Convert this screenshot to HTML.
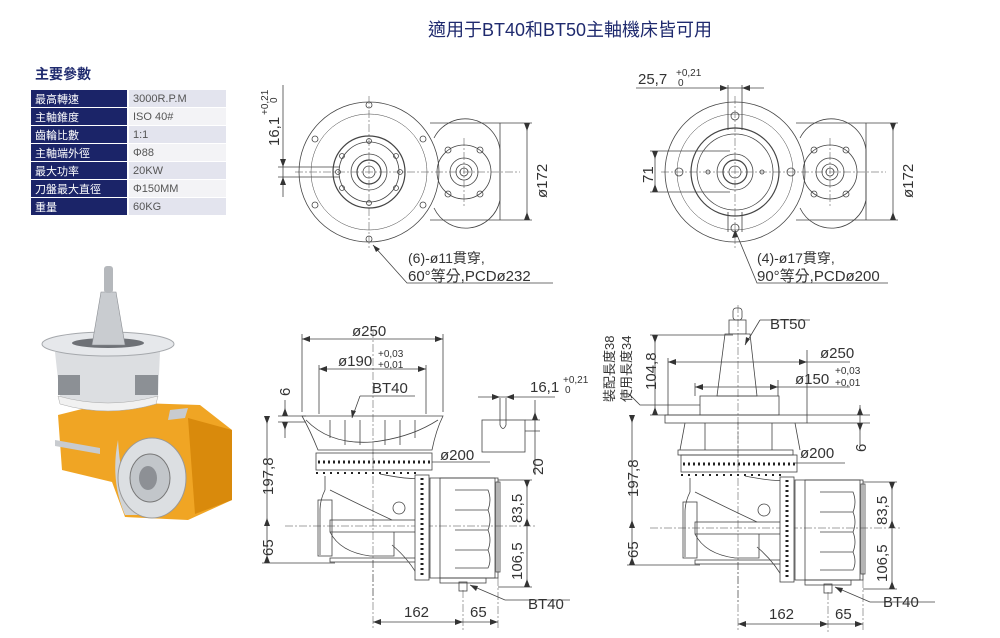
<!DOCTYPE html>
<html><head><meta charset="utf-8"><style>
html,body{margin:0;padding:0;background:#fff;}
body{width:1000px;height:638px;overflow:hidden;position:relative;font-family:"Liberation Sans","Noto Sans CJK TC",sans-serif;}
.title{position:absolute;left:0;width:1140px;top:16px;text-align:center;font-size:18px;color:#1f2a6e;}
.h{position:absolute;left:35px;top:64px;font-size:14px;font-weight:bold;color:#1f2a6e;}
table{position:absolute;left:31px;top:90px;border-collapse:collapse;font-size:11px;}
td{height:17px;padding:0 0 0 4px;border-bottom:1px solid #fff;}
td.k{background:#1b2468;color:#fff;width:92px;border-right:2px solid #fff;}
td.v{color:#555;width:93px;}
tr:nth-child(odd) td.v{background:#e3e4ee;}
tr:nth-child(even) td.v{background:#f3f3f6;}
#d{position:absolute;left:0;top:0;z-index:5;}
#d text{font-family:"Liberation Sans","Noto Sans CJK TC",sans-serif;fill:#333;}
</style></head><body>
<div class="title">適用于BT40和BT50主軸機床皆可用</div>
<div class="h">主要參數</div>
<table>
<tr><td class="k">最高轉速</td><td class="v">3000R.P.M</td></tr>
<tr><td class="k">主軸錐度</td><td class="v">ISO 40#</td></tr>
<tr><td class="k">齒輪比數</td><td class="v">1:1</td></tr>
<tr><td class="k">主軸端外徑</td><td class="v">Φ88</td></tr>
<tr><td class="k">最大功率</td><td class="v">20KW</td></tr>
<tr><td class="k">刀盤最大直徑</td><td class="v">Φ150MM</td></tr>
<tr><td class="k">重量</td><td class="v">60KG</td></tr>
</table>
<svg id="d" xmlns="http://www.w3.org/2000/svg" width="1000" height="638" viewBox="0 0 1000 638">
<!-- top-left view -->
<g fill="none" stroke="#444" stroke-width="0.8">
 <path d="M430,123 H500 M430,220 H500 M500,123 V220"/>
 <circle cx="369" cy="172" r="70"/>
 <circle cx="369" cy="172" r="58" stroke-width="0.5"/>
 <circle cx="369" cy="172" r="36" stroke-width="1.2"/>
 <circle cx="369" cy="172" r="30"/>
 <circle cx="369" cy="172" r="18"/>
 <circle cx="369" cy="172" r="12" stroke-width="1.2"/>
 <circle cx="369" cy="172" r="6"/>
 <path d="M434,138 A35,35 0 0 1 500,150 V200 A35,35 0 0 1 434,208"/>
 <circle cx="464" cy="172" r="27"/>
 <circle cx="464" cy="172" r="14"/>
 <circle cx="464" cy="172" r="8"/>
 <circle cx="464" cy="172" r="4"/>
 <circle cx="448" cy="150" r="3"/><circle cx="480" cy="150" r="3"/><circle cx="448" cy="194" r="3"/><circle cx="480" cy="194" r="3"/>
 <path d="M295,172 H520 M369,96 V250 M464,138 V206" stroke-dasharray="8,2,2,2" stroke-width="0.5"/>
 <path d="M527,123 V220 M500,123 H532 M500,220 H532"/>
 <circle cx="369" cy="105" r="3"/><circle cx="369" cy="239" r="3"/><circle cx="315" cy="139" r="3"/><circle cx="423" cy="139" r="3"/><circle cx="315" cy="205" r="3"/><circle cx="423" cy="205" r="3"/>
 <circle cx="369" cy="141" r="2.5"/><circle cx="369" cy="203" r="2.5"/><circle cx="342" cy="156" r="2.5"/><circle cx="396" cy="156" r="2.5"/><circle cx="342" cy="188" r="2.5"/><circle cx="396" cy="188" r="2.5"/><circle cx="338" cy="172" r="2.5"/><circle cx="400" cy="172" r="2.5"/>
 <path d="M283,85 V197 M278,167 H340 M278,177 H340"/>
 <path d="M373,245 L407,283 H553"/>
</g>
<g fill="#333">
 <path d="M524,123 L530,123 L527,131z M524,220 L530,220 L527,212z M280,159 L286,159 L283,167z M280,185 L286,185 L283,177z M373,245 L380,249 L376,252z"/>
</g>
<!-- top-right view -->
<g transform="translate(366,0)" fill="none" stroke="#444" stroke-width="0.8">
 <path d="M430,123 H500 M430,220 H500 M500,123 V220"/>
 <circle cx="369" cy="172" r="70"/>
 <circle cx="369" cy="172" r="58" stroke-width="0.5"/>
 <circle cx="369" cy="172" r="44" stroke-width="1.2"/>
 <circle cx="369" cy="172" r="38"/>
 <circle cx="369" cy="172" r="18"/>
 <circle cx="369" cy="172" r="12" stroke-width="1.2"/>
 <circle cx="369" cy="172" r="6"/>
 <path d="M434,138 A35,35 0 0 1 500,150 V200 A35,35 0 0 1 434,208"/>
 <circle cx="464" cy="172" r="27"/>
 <circle cx="464" cy="172" r="14"/>
 <circle cx="464" cy="172" r="8"/>
 <circle cx="464" cy="172" r="4"/>
 <circle cx="448" cy="150" r="3"/><circle cx="480" cy="150" r="3"/><circle cx="448" cy="194" r="3"/><circle cx="480" cy="194" r="3"/>
 <path d="M295,172 H520 M369,96 V250 M464,138 V206" stroke-dasharray="8,2,2,2" stroke-width="0.5"/>
 <path d="M527,123 V220 M500,123 H532 M500,220 H532"/>
 <circle cx="369" cy="116" r="4"/><circle cx="369" cy="228" r="4"/><circle cx="313" cy="172" r="4"/><circle cx="425" cy="172" r="4"/>
 <circle cx="342" cy="172" r="2"/><circle cx="396" cy="172" r="2"/>
 <path d="M362,85 V130 M376,85 V130 M362,212 V232 M376,212 V232"/>
 <path d="M270,88 H398"/>
 <path d="M284,151 H364 M284,192 H364 M289,151 V192"/>
 <path d="M369,230 L391,283 H522"/>
</g>
<g fill="#333">
 <path d="M890,123 L896,123 L893,131z M890,220 L896,220 L893,212z M728,88 L720,85 L720,91z M742,88 L750,85 L750,91z M652,151 L658,151 L655,159z M652,192 L658,192 L655,184z M735,230 L732,238 L738,237z"/>
</g>
<g font-size="15">
 <text transform="translate(279,146) rotate(-90)">16,1</text>
 <text font-size="10" transform="translate(268,115) rotate(-90)">+0,21</text>
 <text font-size="10" transform="translate(277,103) rotate(-90)">0</text>
 <text transform="translate(547,198) rotate(-90)">ø172</text>
 <text transform="translate(913,198) rotate(-90)">ø172</text>
 <text transform="translate(653,183) rotate(-90)">71</text>
 <text x="638" y="84">25,7</text><text x="676" y="76" font-size="10">+0,21</text><text x="678" y="86" font-size="10">0</text>
 <text x="408" y="263" font-size="14">(6)-ø11貫穿,</text>
 <text x="408" y="281">60°等分,PCDø232</text>
 <text x="757" y="263" font-size="14">(4)-ø17貫穿,</text>
 <text x="757" y="281">90°等分,PCDø200</text>
</g>
<!-- lower drawings -->
<g>
 <rect x="316" y="453" width="116" height="17" fill="#fff" stroke="#444" stroke-width="0.8"/>
 <path d="M318,462 H430" stroke="#222" stroke-width="3" stroke-dasharray="2,3"/>
 <path d="M316,473 H420" stroke="#222" stroke-width="2" stroke-dasharray="2,5"/>
 <g fill="none" stroke="#444" stroke-width="0.8">
 <path d="M325,476 V490 Q320,500 320,510 V555 M330,490 Q360,505 392,520 M380,474 Q410,480 420,478 V580 Q410,560 392,545"/>
 <rect x="318" y="500" width="14" height="56"/>
 <rect x="330" y="520" width="88" height="12"/>
 <path d="M330,532 Q340,552 370,556 H394 V532"/>
 <rect x="330" y="558" width="88" height="4"/>
 <rect x="430" y="478" width="68" height="100"/>
 <rect x="440" y="478" width="55" height="100"/>
 <path d="M455,490 H488 Q492,500 488,510 H455 M455,510 H488 Q492,520 488,530 H455 M455,530 H488 Q492,540 488,550 H455 M455,550 H488 Q492,560 488,568 H455"/>
 <rect x="496" y="482" width="4" height="90"/>
 <rect x="440" y="578" width="46" height="5"/>
 <rect x="459" y="582" width="8" height="9"/>
 <circle cx="399" cy="508" r="6"/>
 <path d="M373,420 V600 M285,526 H535 M463,590 V630 M498,578 V630 M373,560 V630" stroke-dasharray="8,2,2,2" stroke-width="0.5"/>
 <path d="M267,416 V563 M262,563 H335 M498,480 H532 M498,587 H532 M527,480 V587 M373,622 H498 M505,600 L470,585 M505,600 H570"/>
 </g>
 <path d="M264,416 L270,416 L267,424z M264,563 L270,563 L267,555z M264,526 L270,526 L267,518z M524,480 L530,480 L527,488z M524,587 L530,587 L527,579z M524,526 L530,526 L527,518z M373,622 L381,619 L381,625z M463,622 L455,619 L455,625z M498,622 L490,619 L490,625z M470,585 L478,586 L476,591z" fill="#333"/>
 <rect x="415" y="475" width="14" height="105" fill="#fff" stroke="#444" stroke-width="0.8"/>
 <path d="M422,478 V578" stroke="#222" stroke-width="3" stroke-dasharray="2,3"/>
 <g font-size="15">
 <text transform="translate(273,495) rotate(-90)">197,8</text>
 <text transform="translate(273,556) rotate(-90)">65</text>
 <text transform="translate(522,523) rotate(-90)">83,5</text>
 <text transform="translate(522,580) rotate(-90)">106,5</text>
 <text x="404" y="617">162</text><text x="470" y="617">65</text>
 <text x="528" y="609">BT40</text>
 </g>
</g>
<g transform="translate(365,2)">
 <rect x="316" y="453" width="116" height="17" fill="#fff" stroke="#444" stroke-width="0.8"/>
 <path d="M318,462 H430" stroke="#222" stroke-width="3" stroke-dasharray="2,3"/>
 <path d="M316,473 H420" stroke="#222" stroke-width="2" stroke-dasharray="2,5"/>
 <g fill="none" stroke="#444" stroke-width="0.8">
 <path d="M325,476 V490 Q320,500 320,510 V555 M330,490 Q360,505 392,520 M380,474 Q410,480 420,478 V580 Q410,560 392,545"/>
 <rect x="318" y="500" width="14" height="56"/>
 <rect x="330" y="520" width="88" height="12"/>
 <path d="M330,532 Q340,552 370,556 H394 V532"/>
 <rect x="330" y="558" width="88" height="4"/>
 <rect x="430" y="478" width="68" height="100"/>
 <rect x="440" y="478" width="55" height="100"/>
 <path d="M455,490 H488 Q492,500 488,510 H455 M455,510 H488 Q492,520 488,530 H455 M455,530 H488 Q492,540 488,550 H455 M455,550 H488 Q492,560 488,568 H455"/>
 <rect x="496" y="482" width="4" height="90"/>
 <rect x="440" y="578" width="46" height="5"/>
 <rect x="459" y="582" width="8" height="9"/>
 <circle cx="399" cy="508" r="6"/>
 <path d="M373,420 V600 M285,526 H535 M463,590 V630 M498,578 V630 M373,560 V630" stroke-dasharray="8,2,2,2" stroke-width="0.5"/>
 <path d="M267,413 V563 M262,563 H335 M498,480 H532 M498,587 H532 M527,480 V587 M373,622 H498 M505,600 L470,585 M505,600 H570"/>
 </g>
 <path d="M264,413 L270,413 L267,421z M264,563 L270,563 L267,555z M264,526 L270,526 L267,518z M524,480 L530,480 L527,488z M524,587 L530,587 L527,579z M524,526 L530,526 L527,518z M373,622 L381,619 L381,625z M463,622 L455,619 L455,625z M498,622 L490,619 L490,625z M470,585 L478,586 L476,591z" fill="#333"/>
 <rect x="415" y="475" width="14" height="105" fill="#fff" stroke="#444" stroke-width="0.8"/>
 <path d="M422,478 V578" stroke="#222" stroke-width="3" stroke-dasharray="2,3"/>
 <g font-size="15">
 <text transform="translate(273,495) rotate(-90)">197,8</text>
 <text transform="translate(273,556) rotate(-90)">65</text>
 <text transform="translate(522,523) rotate(-90)">83,5</text>
 <text transform="translate(522,580) rotate(-90)">106,5</text>
 <text x="404" y="617">162</text><text x="470" y="617">65</text>
 <text x="518" y="605">BT40</text>
 </g>
</g>
<!-- bottom-left upper -->
<g fill="none" stroke="#444" stroke-width="0.8">
 <path d="M302,416 H443 Q436,430 432,450 H318 Q310,430 302,416z" fill="#fff"/>
 <path d="M306,420 Q330,445 372,442 Q410,438 438,420"/>
 <path d="M330,420 V438 M345,420 V445 M360,420 V445 M385,420 V445 M400,420 V445 M415,420 V438"/>
 <path d="M302,339 H443 M302,334 V412 M443,334 V412"/>
 <path d="M319,365 V414 M426,365 V414 M319,369 H426"/>
 <path d="M360,396 H415 M360,396 L352,418"/>
 <path d="M278,416 H306 M278,422 H306 M285,400 V416 M285,438 V422"/>
 <path d="M432,462 H490"/>
 <rect x="482" y="420" width="43" height="32"/>
 <path d="M500,398 V425 Q503,432 506,425 V398"/>
 <path d="M478,397 H555"/>
 <path d="M535,400 V475 M525,420 H540 M525,431 H540"/>
 <path d="M373,330 V470" stroke-dasharray="8,2,2,2" stroke-width="0.5"/>
</g>
<path fill="#333" d="M302,339 L310,336 L310,342z M443,339 L435,336 L435,342z M319,369 L327,366 L327,372z M426,369 L418,366 L418,372z M352,418 L351,410 L356,411z M282,416 L288,416 L285,408z M282,422 L288,422 L285,430z M500,397 L492,394 L492,400z M506,397 L514,394 L514,400z M532,420 L538,420 L535,412z"/>
<g font-size="15">
 <text x="352" y="336">ø250</text>
 <text x="338" y="366">ø190</text><text x="378" y="357" font-size="10">+0,03</text><text x="378" y="368" font-size="10">+0,01</text>
 <text x="372" y="393">BT40</text>
 <text transform="translate(290,396) rotate(-90)">6</text>
 <text x="440" y="460">ø200</text>
 <text x="530" y="392">16,1</text><text x="563" y="383" font-size="10">+0,21</text><text x="565" y="393" font-size="10">0</text>
 <text transform="translate(543,475) rotate(-90)">20</text>
</g>
<!-- bottom-right upper -->
<g fill="none" stroke="#444" stroke-width="0.8">
 <rect x="733" y="308" width="9" height="12" rx="3"/>
 <rect x="729" y="320" width="17" height="14"/>
 <path d="M725,334 H750 L757,396 H717z" fill="#fff"/>
 <rect x="700" y="396" width="79" height="19"/>
 <rect x="665" y="415" width="142" height="8"/>
 <path d="M685,423 L680,450 M795,423 L800,450 M705,423 V450 M772,423 V450"/>
 <rect x="678" y="450" width="115" height="5"/>
 <path d="M668,362 H850 M668,358 V415 M807,350 V415"/>
 <path d="M695,387 H850 M695,383 V396 M778,380 V396"/>
 <path d="M655,335 V415"/>
 <path d="M650,335 H733 M650,415 H700 M630,395 L640,405 H700"/>
 <path d="M760,320 H810 M760,320 L745,345"/>
 <path d="M860,405 V445 M807,415 H870 M807,423 H870"/>
 <path d="M793,463 H845"/>
 <path d="M738,305 V470" stroke-dasharray="8,2,2,2" stroke-width="0.5"/>
</g>
<path fill="#333" d="M668,362 L676,359 L676,365z M807,362 L799,359 L799,365z M695,387 L703,384 L703,390z M778,387 L770,384 L770,390z M652,335 L658,335 L655,343z M652,415 L658,415 L655,407z M745,345 L746,337 L750,339z M857,415 L863,415 L860,407z M857,423 L863,423 L860,431z"/>
<g font-size="15">
 <text x="770" y="329">BT50</text>
 <text x="820" y="358">ø250</text>
 <text x="795" y="384">ø150</text><text x="835" y="374" font-size="10">+0,03</text><text x="835" y="386" font-size="10">+0,01</text>
 <text transform="translate(656,390) rotate(-90)">104,8</text>
 <text font-size="13" transform="translate(614,402) rotate(-90)">裝配長度38</text>
 <text font-size="13" transform="translate(631,402) rotate(-90)">使用長度34</text>
 <text transform="translate(866,452) rotate(-90)">6</text>
 <text x="800" y="458">ø200</text>
</g>
<!-- product photo -->
<g>
 <path d="M58,415 L110,402 L200,405 L232,430 L232,500 L188,520 L125,517 L112,482 L62,470z" fill="#f0a524"/>
 <path d="M188,418 L232,430 L232,500 L195,514z" fill="#d98a0c"/>
 <path d="M55,440 L100,448 L100,454 L55,446z" fill="#c8cbcf"/>
 <path d="M170,410 L188,408 L185,418 L168,420z" fill="#c8cbcf"/>
 <path d="M118,440 Q122,505 145,515 L125,515 Q110,480 118,440z" fill="#d0d3d6"/>
 <ellipse cx="152" cy="478" rx="34" ry="40" fill="#dcdfe2" stroke="#999"/>
 <ellipse cx="150" cy="478" rx="20" ry="24" fill="#c2c6ca" stroke="#777"/>
 <ellipse cx="148" cy="478" rx="9" ry="12" fill="#8d9095"/>
 <path d="M55,352 H160 L158,398 Q108,412 60,398z" fill="#dcdee1"/>
 <path d="M58,375 H80 V395 H58z M135,375 H158 V395 H135z" fill="#8c9095"/>
 <path d="M58,396 Q108,410 158,396 L156,404 Q108,418 60,404z" fill="#f1f1f1" stroke="#aaa" stroke-width="0.5"/>
 <ellipse cx="108" cy="344" rx="66" ry="12" fill="#e6e8eb" stroke="#a5a8ac"/>
 <ellipse cx="108" cy="343" rx="36" ry="5" fill="#6e7176"/>
 <path d="M101,292 H116 L125,345 H92z" fill="#c9ccd0" stroke="#8a8d92" stroke-width="0.6"/>
 <rect x="104" y="266" width="9" height="27" rx="3" fill="#b5b8bc"/>
</g>
</svg>
</body></html>
